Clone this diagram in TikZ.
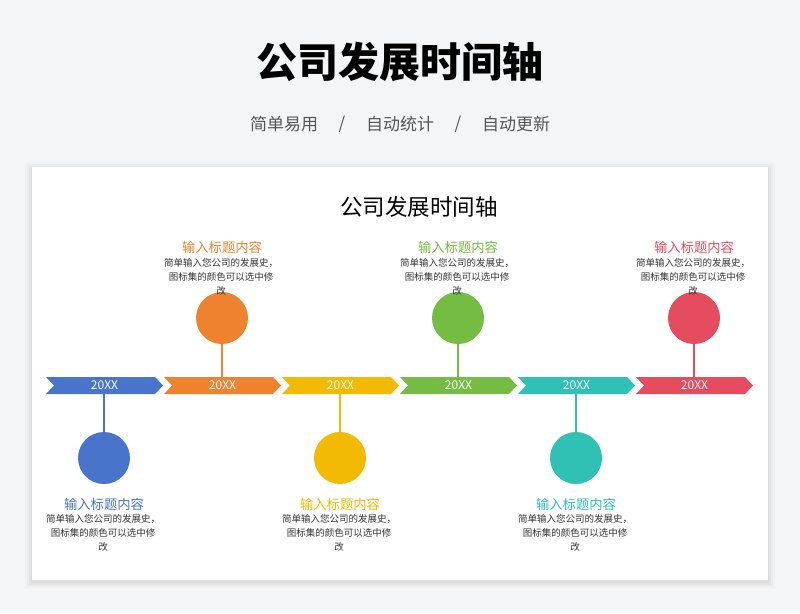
\documentclass[tikz,border=0pt]{standalone}
\usepackage{fontspec}
\setmainfont{Noto Sans CJK SC}
\definecolor{bg}{HTML}{F4F5F7}
\definecolor{cblue}{HTML}{4874CB}
\definecolor{corange}{HTML}{EE822F}
\definecolor{cyellow}{HTML}{F2BA02}
\definecolor{cgreen}{HTML}{75BD42}
\definecolor{cteal}{HTML}{30C0B4}
\definecolor{cred}{HTML}{E54C5E}
\definecolor{subgray}{HTML}{555555}
\definecolor{desc}{HTML}{333333}
\tikzset{
  dot/.style={circle, fill=#1, minimum size=52pt, inner sep=0pt},
  stem/.style={draw=#1, line width=1.6pt},
  chevlabel/.style={text=white, font=\fontsize{12}{12}\selectfont, minimum width=100pt, minimum height=17pt, inner sep=0pt},
  itemtitle/.style={text=#1, font=\fontsize{13.3}{14}\selectfont, inner sep=0pt},
  itemdesc/.style={text=desc, font=\fontsize{9.5}{14}\selectfont, align=center, inner sep=0pt},
  subtxt/.style={text=subgray, font=\fontsize{17}{18}\selectfont},
}
\begin{document}
\begin{tikzpicture}[x=1pt,y=-1pt]
\fill[bg] (0,0) rectangle (800,613);
\useasboundingbox (0,0) rectangle (800,613);
% card shadow
\foreach \k/\o in {7/0.015,5/0.02,3/0.03,1/0.04}{
  \fill[black, opacity=\o] (32-\k,167-\k+2) rectangle (768+\k,580+\k+2);
}
\fill[white] (32,167) rectangle (768,580);
% headings
\node (title) at (400,62) {\fontsize{41}{44}\selectfont\bfseries 公司发展时间轴};
\node[subtxt] (s1) at (284,124) {简单易用};
\node[subtxt] (sl1) at (342,124) {/};
\node[subtxt] (s2) at (400,124) {自动统计};
\node[subtxt] (sl2) at (458,124) {/};
\node[subtxt] (s3) at (516,124) {自动更新};
\node[font=\fontsize{22.5}{24}\selectfont] (cardtitle) at (419,207) {公司发展时间轴};
% chevrons
\foreach \i/\c in {0/cblue,1/corange,2/cyellow,3/cgreen,4/cteal,5/cred}{
  \pgfmathsetmacro{\L}{46+118*\i}
  \fill[\c] (\L,377) -- (\L+109,377) -- (\L+117,385.5) -- (\L+109,394) -- (\L,394) -- (\L+8,385.5) -- cycle;
  \node[chevlabel] (chev\i) at (\L+58.5,385.5) {20XX};
}
% top items
\foreach \i/\c in {1/corange,3/cgreen,5/cred}{
  \pgfmathsetmacro{\X}{104+118*\i}
  \node[dot=\c] (dot\i) at (\X,318) {};
  \draw[stem=\c] (dot\i.south) -- (\X,377);
  \node[itemtitle=\c] (ttl\i) at (\X,247) {输入标题内容};
  \node[itemdesc] (dsc\i) at (\X-1,277) {简单输入您公司的发展史，\\图标集的颜色可以选中修\\改};
}
% bottom items
\foreach \i/\c in {0/cblue,2/cyellow,4/cteal}{
  \pgfmathsetmacro{\X}{104+118*\i}
  \node[dot=\c] (dot\i) at (\X,458) {};
  \draw[stem=\c] (\X,394) -- (dot\i.north);
  \node[itemtitle=\c] (ttl\i) at (\X,504) {输入标题内容};
  \node[itemdesc] (dsc\i) at (\X-1,533) {简单输入您公司的发展史，\\图标集的颜色可以选中修\\改};
}
\end{tikzpicture}
\end{document}
